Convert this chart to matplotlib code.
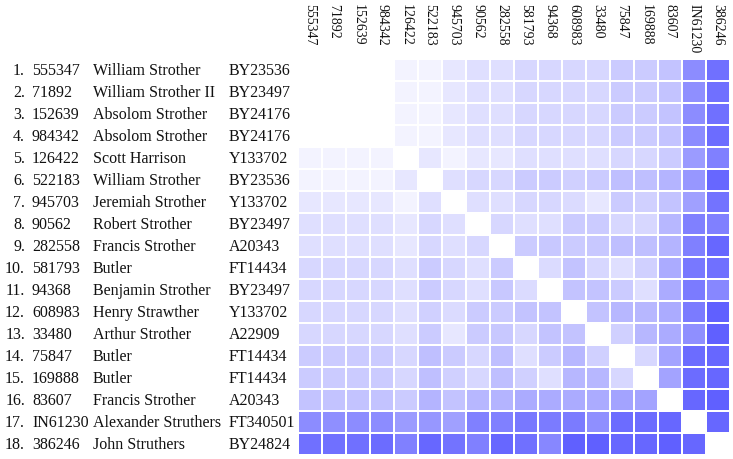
import numpy as np
import matplotlib
matplotlib.use("Agg")
import matplotlib.pyplot as plt
from matplotlib.colors import LinearSegmentedColormap
from matplotlib import transforms

plt.rcParams['font.family'] = ['Liberation Serif', 'DejaVu Serif']

kits = ["555347", "71892", "152639", "984342", "126422", "522183", "945703",
        "90562", "282558", "581793", "94368", "608983", "33480", "75847",
        "169888", "83607", "IN61230", "386246"]
names = ["William Strother", "William Strother II", "Absolom Strother",
         "Absolom Strother", "Scott Harrison", "William Strother",
         "Jeremiah Strother", "Robert Strother", "Francis Strother", "Butler",
         "Benjamin Strother", "Henry Strawther", "Arthur Strother", "Butler",
         "Butler", "Francis Strother", "Alexander Struthers", "John Struthers"]
haplogroups = ["BY23536", "BY23497", "BY24176", "BY24176", "Y133702",
               "BY23536", "Y133702", "BY23497", "A20343", "FT14434",
               "BY23497", "Y133702", "A22909", "FT14434", "FT14434",
               "A20343", "FT340501", "BY24824"]

# pairwise distances
distance = [
    [0, 0, 0, 0, 3, 3, 6, 8, 8, 10, 10, 10, 10, 13, 13, 15, 29, 36],
    [0, 0, 0, 0, 3, 3, 6, 8, 8, 10, 10, 10, 10, 13, 13, 15, 28, 36],
    [0, 0, 0, 0, 3, 3, 6, 8, 8, 10, 10, 10, 10, 13, 13, 15, 29, 36],
    [0, 0, 0, 0, 3, 3, 6, 8, 8, 10, 10, 10, 10, 13, 13, 15, 29, 37],
    [3, 3, 3, 3, 0, 6, 3, 6, 6, 8, 8, 8, 8, 10, 10, 13, 25, 32],
    [3, 3, 3, 3, 6, 0, 8, 10, 10, 13, 13, 12, 13, 16, 16, 19, 26, 38],
    [6, 6, 6, 6, 3, 8, 0, 8, 8, 10, 10, 9, 6, 13, 12, 15, 24, 35],
    [8, 8, 8, 8, 6, 10, 8, 0, 10, 8, 8, 13, 13, 10, 10, 18, 32, 32],
    [8, 8, 8, 8, 6, 10, 8, 10, 0, 13, 14, 13, 14, 16, 16, 19, 32, 38],
    [10, 10, 10, 10, 8, 13, 10, 8, 13, 0, 9, 15, 10, 8, 12, 21, 34, 36],
    [10, 10, 10, 10, 8, 13, 10, 8, 14, 9, 0, 15, 15, 13, 8, 21, 33, 30],
    [10, 10, 10, 10, 8, 12, 9, 13, 13, 15, 15, 0, 15, 18, 18, 21, 33, 40],
    [10, 10, 10, 10, 8, 13, 6, 13, 14, 10, 15, 15, 0, 12, 18, 21, 28, 40],
    [13, 13, 13, 13, 10, 16, 13, 10, 16, 8, 13, 18, 12, 0, 10, 23, 37, 38],
    [13, 13, 13, 13, 10, 16, 12, 10, 16, 12, 8, 18, 18, 10, 0, 23, 37, 38],
    [15, 15, 15, 15, 13, 19, 15, 18, 19, 21, 21, 21, 21, 23, 23, 0, 38, 40],
    [29, 28, 29, 29, 25, 26, 24, 32, 32, 34, 33, 33, 28, 37, 37, 38, 0, 38],
    [36, 36, 36, 37, 32, 38, 35, 32, 38, 36, 30, 40, 40, 38, 38, 40, 38, 0],
]

W, H = 733, 460
fig = plt.figure(figsize=(W / 100, H / 100), dpi=100)
fig.patch.set_facecolor('white')

# matrix area in pixels
left, right, top, bottom = 298, 730, 60, 456
ax = fig.add_axes([left / W, 1 - bottom / H, (right - left) / W, (bottom - top) / H])

cmap = LinearSegmentedColormap.from_list("wb", ["#ffffff", "#6060ff"])
data = np.array(distance)
n = len(kits)
ax.pcolormesh(data, cmap=cmap, vmin=0, vmax=40, edgecolors='white', linewidth=1.44)
ax.set_xlim(0, n)
ax.set_ylim(n, 0)
ax.set_axis_off()

# column labels, top aligned, reading downwards
col_tr = transforms.blended_transform_factory(ax.transData, fig.transFigure)
for j, k in enumerate(kits):
    ax.text(j + 0.5, 1 - 4 / H, k, transform=col_tr, rotation=270,
            ha='center', va='top', fontsize=10, color='#111111')

# row labels
row_tr = transforms.blended_transform_factory(fig.transFigure, ax.transData)
for i in range(n):
    y = i + 0.5
    ax.text(25 / W, y, f"{i + 1}.", transform=row_tr, ha='right', va='center',
            fontsize=11.5, color='#111111')
    ax.text(32 / W, y, kits[i], transform=row_tr, ha='left', va='center',
            fontsize=11.5, color='#111111')
    ax.text(93 / W, y, names[i], transform=row_tr, ha='left', va='center',
            fontsize=11.5, color='#111111')
    ax.text(229 / W, y, haplogroups[i], transform=row_tr, ha='left', va='center',
            fontsize=11.5, color='#111111')

fig.savefig("out.png", dpi=100)
